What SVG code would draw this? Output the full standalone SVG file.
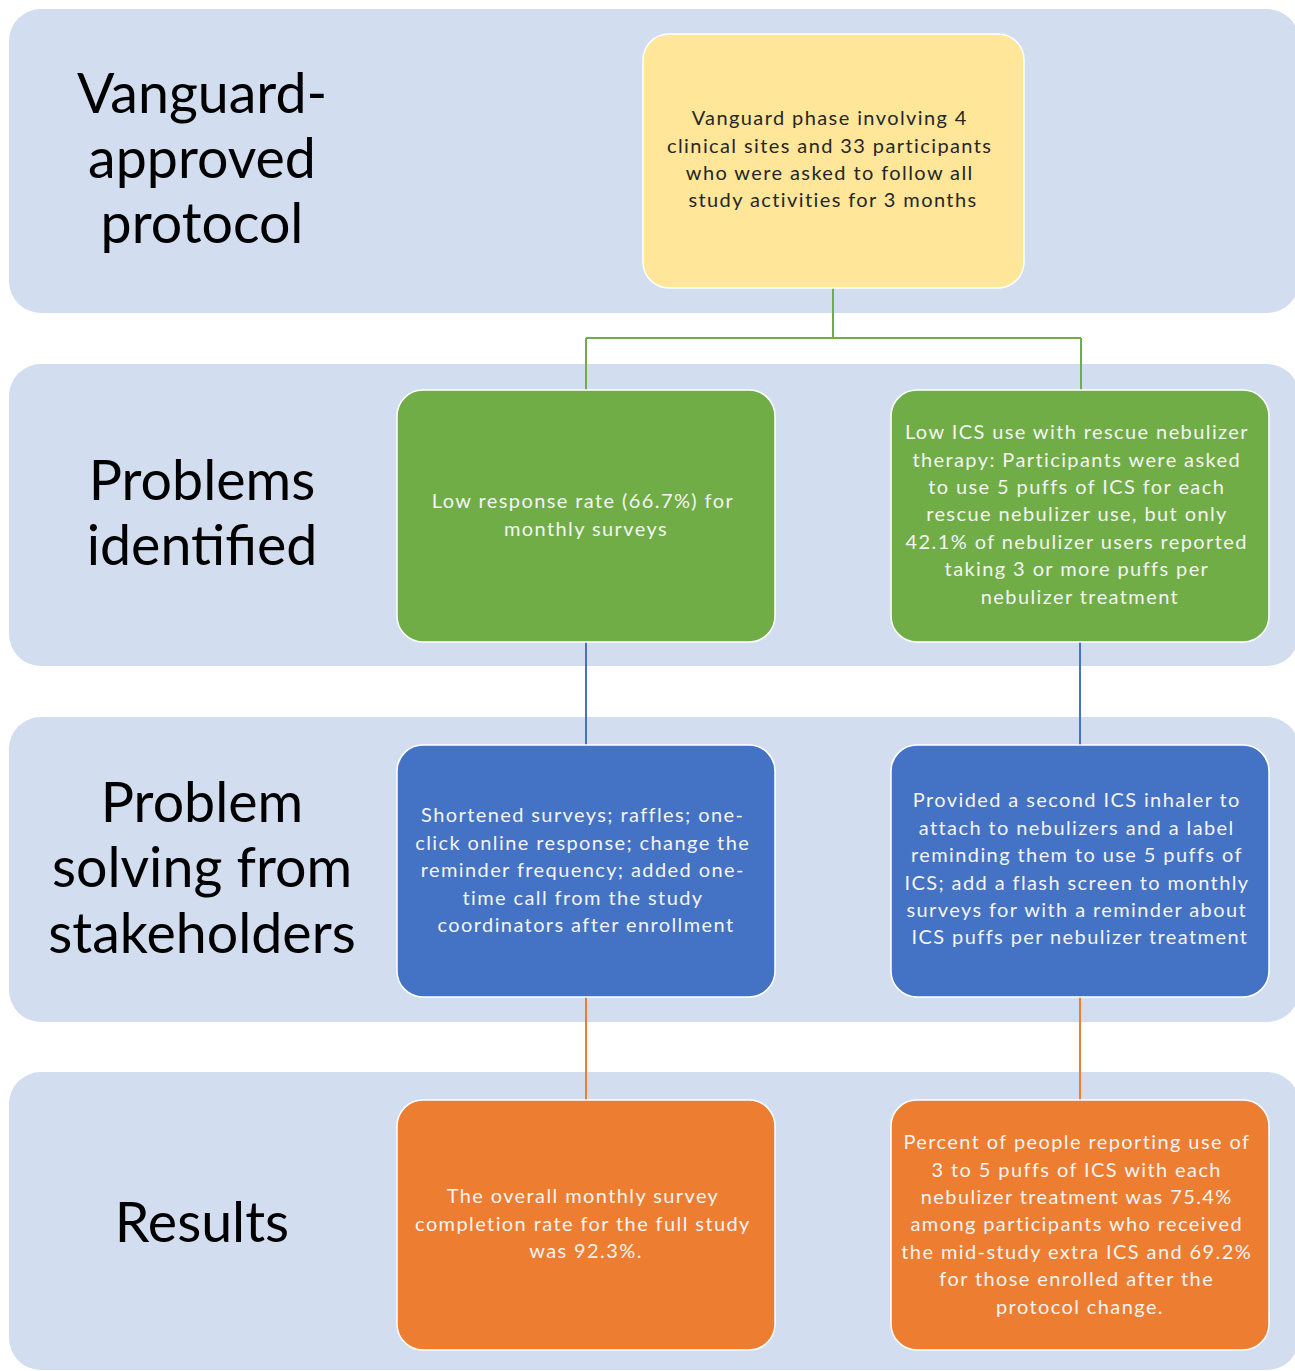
<svg xmlns="http://www.w3.org/2000/svg" width="1295" height="1371" viewBox="0 0 1295 1371">
  <style>
    .band { fill: #D2DDEF; }
    .node rect { stroke: #FFFFFF; stroke-width: 1.5; }
    .yellow { fill: #FFE699; }
    .green { fill: #70AD47; }
    .blue { fill: #4472C4; }
    .orange { fill: #ED7D31; }
    .stage { font-family: Lato, "Open Sans", sans-serif; font-size: 55.5px; fill: #000000; text-anchor: middle; }
    .txt { font-family: Lato, "Open Sans", sans-serif; font-size: 20px; text-anchor: middle; letter-spacing: 1.4px; }
    .dark { fill: #262626; }
    .light { fill: #F4F4F4; }
    .conn { fill: none; stroke-width: 2; }
  </style>

  <!-- stage bands -->
  <g id="bands">
    <rect class="band" x="9" y="9" width="1290" height="304" rx="32"/>
    <rect class="band" x="9" y="364" width="1290" height="302" rx="32"/>
    <rect class="band" x="9" y="717" width="1290" height="305" rx="32"/>
    <rect class="band" x="9" y="1072" width="1290" height="298" rx="32"/>
  </g>

  <!-- stage titles -->
  <g id="stage-titles">
    <text class="stage" x="202" y="113">Vanguard-</text>
    <text class="stage" x="202" y="178">approved</text>
    <text class="stage" x="202" y="243">protocol</text>
    <text class="stage" x="202" y="500">Problems</text>
    <text class="stage" x="202" y="565">identified</text>
    <text class="stage" x="202" y="822">Problem</text>
    <text class="stage" x="202" y="887">solving from</text>
    <text class="stage" x="202" y="953">stakeholders</text>
    <text class="stage" x="202" y="1242">Results</text>
  </g>

  <!-- connectors -->
  <g id="connectors">
    <path class="conn" stroke="#70AD47" d="M833 288 V338 M586 338 H1081 M586 338 V390 M1081 338 V390"/>
    <path class="conn" stroke="#4472C4" d="M586 642 V745 M1080 642 V745"/>
    <path class="conn" stroke="#ED7D31" d="M586 997 V1100 M1080 997 V1100"/>
  </g>

  <g id="node-vanguard" class="node">
    <rect class="yellow" x="643" y="34" width="381" height="254" rx="26"/>
    <text class="txt dark">
      <tspan x="833" y="125">Vanguard phase involving 4</tspan>
      <tspan x="833" y="153">clinical sites and 33 participants</tspan>
      <tspan x="833" y="180">who were asked to follow all</tspan>
      <tspan x="833" y="207">study activities for 3 months</tspan>
    </text>
  </g>

  <g id="node-problem-surveys" class="node">
    <rect class="green" x="397" y="390" width="378" height="252" rx="26"/>
    <text class="txt light">
      <tspan x="586" y="508">Low response rate (66.7%) for</tspan>
      <tspan x="586" y="536">monthly surveys</tspan>
    </text>
  </g>

  <g id="node-problem-ics" class="node">
    <rect class="green" x="891" y="390" width="378" height="252" rx="26"/>
    <text class="txt light">
      <tspan x="1080" y="439">Low ICS use with rescue nebulizer</tspan>
      <tspan x="1080" y="467">therapy: Participants were asked</tspan>
      <tspan x="1080" y="494">to use 5 puffs of ICS for each</tspan>
      <tspan x="1080" y="521">rescue nebulizer use, but only</tspan>
      <tspan x="1080" y="549">42.1% of nebulizer users reported</tspan>
      <tspan x="1080" y="576">taking 3 or more puffs per</tspan>
      <tspan x="1080" y="604">nebulizer treatment</tspan>
    </text>
  </g>

  <g id="node-solution-surveys" class="node">
    <rect class="blue" x="397" y="745" width="378" height="252" rx="26"/>
    <text class="txt light">
      <tspan x="586" y="822">Shortened surveys; raffles; one-</tspan>
      <tspan x="586" y="850">click online response; change the</tspan>
      <tspan x="586" y="877">reminder frequency; added one-</tspan>
      <tspan x="586" y="905">time call from the study</tspan>
      <tspan x="586" y="932">coordinators after enrollment</tspan>
    </text>
  </g>

  <g id="node-solution-ics" class="node">
    <rect class="blue" x="891" y="745" width="378" height="252" rx="26"/>
    <text class="txt light">
      <tspan x="1080" y="807">Provided a second ICS inhaler to</tspan>
      <tspan x="1080" y="835">attach to nebulizers and a label</tspan>
      <tspan x="1080" y="862">reminding them to use 5 puffs of</tspan>
      <tspan x="1080" y="890">ICS; add a flash screen to monthly</tspan>
      <tspan x="1080" y="917">surveys for with a reminder about</tspan>
      <tspan x="1080" y="944">ICS puffs per nebulizer treatment</tspan>
    </text>
  </g>

  <g id="node-result-surveys" class="node">
    <rect class="orange" x="397" y="1100" width="378" height="250" rx="26"/>
    <text class="txt light">
      <tspan x="586" y="1203">The overall monthly survey</tspan>
      <tspan x="586" y="1231">completion rate for the full study</tspan>
      <tspan x="586" y="1258">was 92.3%.</tspan>
    </text>
  </g>

  <g id="node-result-ics" class="node">
    <rect class="orange" x="891" y="1100" width="378" height="250" rx="26"/>
    <text class="txt light">
      <tspan x="1080" y="1149">Percent of people reporting use of</tspan>
      <tspan x="1080" y="1177">3 to 5 puffs of ICS with each</tspan>
      <tspan x="1080" y="1204">nebulizer treatment was 75.4%</tspan>
      <tspan x="1080" y="1231">among participants who received</tspan>
      <tspan x="1080" y="1259">the mid-study extra ICS and 69.2%</tspan>
      <tspan x="1080" y="1286">for those enrolled after the</tspan>
      <tspan x="1080" y="1314">protocol change.</tspan>
    </text>
  </g>
</svg>
